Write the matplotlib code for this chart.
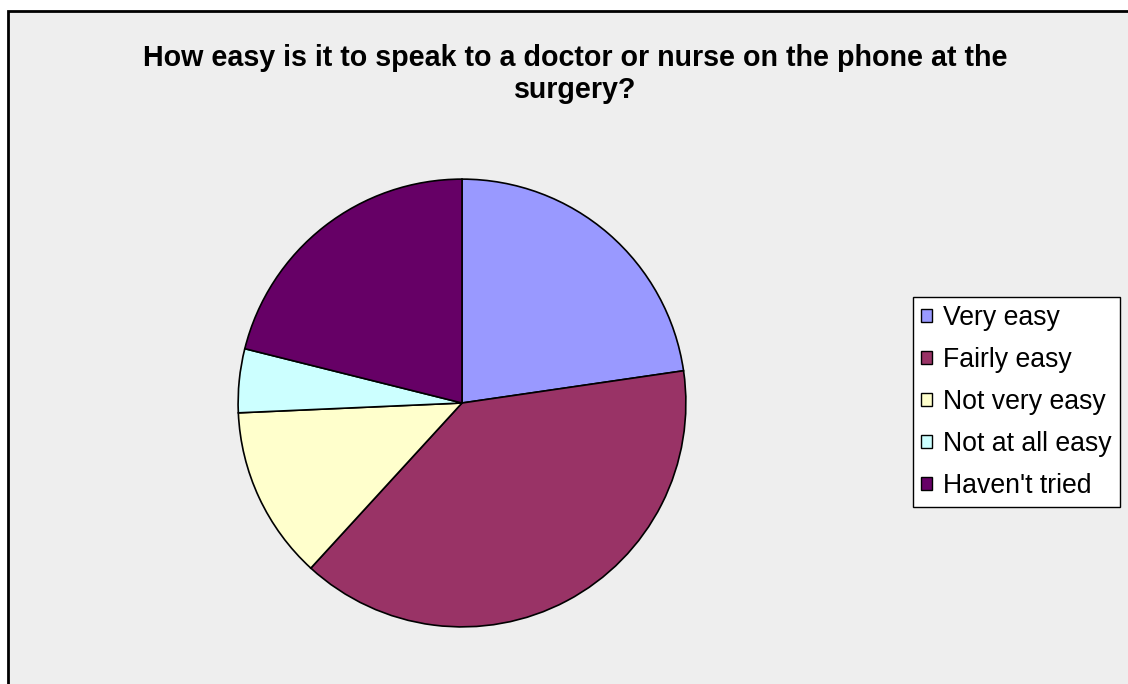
import matplotlib.pyplot as plt
from matplotlib.patches import Rectangle, Patch

# survey answers, share in percent
labels = ["Very easy", "Fairly easy", "Not very easy", "Not at all easy", "Haven't tried"]
shares = [22.7, 39.1, 12.5, 4.6, 21.1]
colors = ["#9999FF", "#993366", "#FFFFCC", "#CCFFFF", "#660066"]

title = "How easy is it to speak to a doctor or nurse on the phone at the\nsurgery?"

W, H = 1128, 684
fig = plt.figure(figsize=(W / 100, H / 100), dpi=100)
fig.patch.set_facecolor("white")

# chart area (grey) with black frame, cut off at right and bottom
fig.patches.append(Rectangle((8 / W, -0.05), 1.1, 1 - 11 / H + 0.05,
                             transform=fig.transFigure, facecolor="#EEEEEE",
                             edgecolor="black", linewidth=2, zorder=-10))

fig.text(575 / W, 1 - 74 / H, title, ha="center", va="center",
         fontsize=20.6, fontweight="bold", family="Liberation Sans",
         linespacing=1.2)

cx, cy, r = 462, 403, 225
ax = fig.add_axes([(cx - r) / W, (H - cy - r) / H, 2 * r / W, 2 * r / H])
ax.pie(shares, colors=colors, startangle=90, counterclock=False,
       wedgeprops=dict(edgecolor="black", linewidth=1.2))
ax.set_xlim(-1.005, 1.005)
ax.set_ylim(-1.005, 1.005)
ax.set_aspect("equal")
ax.axis("off")

handles = [Patch(facecolor=c, edgecolor="black", linewidth=1) for c in colors]
leg = fig.legend(handles, labels, loc="upper left",
                 bbox_to_anchor=(913 / W, 1 - 297 / H),
                 prop={"family": "Liberation Sans", "size": 19.2},
                 frameon=True, fancybox=False, edgecolor="black",
                 handlelength=0.42, handleheight=0.42, handletextpad=0.42,
                 labelspacing=0.6, borderpad=0.3, borderaxespad=0)
leg.get_frame().set_linewidth(1)
leg.get_frame().set_facecolor("white")
leg.get_frame().set_alpha(1)

fig.savefig("out.png", dpi=100)
